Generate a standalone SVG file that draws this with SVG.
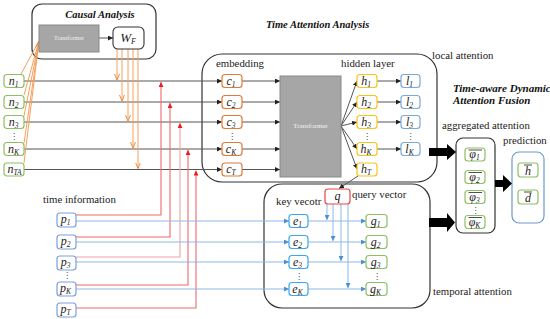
<svg xmlns="http://www.w3.org/2000/svg" width="550" height="319" viewBox="0 0 550 319">
<defs>
<style>
.bg{fill:#fff}
.frame{fill:none;stroke:#333;stroke-width:1.2}
.nb{fill:#fff;stroke:#8cc063;stroke-width:1.2}
.cb{fill:#fff;stroke:#e07b39;stroke-width:1.2}
.hb{fill:#fff;stroke:#f5c518;stroke-width:1.2}
.lb{fill:#fff;stroke:#7aa9dc;stroke-width:1.2}
.eb{fill:#fff;stroke:#3aa8ec;stroke-width:1.2}
.pb{fill:#fff;stroke:#7a9fdf;stroke-width:1.2}
.qb{fill:#fff;stroke:#e84545;stroke-width:1.2}
.tf{fill:#a6a6a6;stroke:#8a8a8a;stroke-width:1}
.m{font-family:"Liberation Serif",serif;font-style:italic;font-size:12px;fill:#222;text-anchor:middle}
.s{font-size:7.5px}
.lbl{font-family:"Liberation Serif",serif;font-size:10.8px;fill:#222}
.ttl{font-family:"Liberation Serif",serif;font-size:10.5px;font-weight:bold;font-style:italic;fill:#111}
.tft{font-family:"Liberation Serif",serif;font-size:6px;fill:#f2f2f2;text-anchor:middle}
.dots{font-family:"DejaVu Sans",sans-serif;font-size:8px;fill:#333;text-anchor:middle}
.gl{fill:none;stroke:#555;stroke-width:1}
.ol{fill:none;stroke:#f5a05a;stroke-width:1}
.rl{fill:none;stroke:#f06a6a;stroke-width:1.1}
.bl{fill:none;stroke:#8fb8e8;stroke-width:1}
.ov{stroke:#222;stroke-width:0.8}
.big{fill:#000}
</style>
<marker id="ak" viewBox="0 0 6 6" refX="6" refY="3" markerWidth="5" markerHeight="5" orient="auto" markerUnits="userSpaceOnUse"><path d="M0,0 L6,3 L0,6 z" fill="#222"/></marker>
<marker id="ao" viewBox="0 0 6 6" refX="6" refY="3" markerWidth="6" markerHeight="6" orient="auto" markerUnits="userSpaceOnUse"><path d="M0,0.5 L6,3 L0,5.5" fill="none" stroke="#f08a3a" stroke-width="1"/></marker>
<marker id="ar" viewBox="0 0 6 6" refX="6" refY="3" markerWidth="5" markerHeight="5" orient="auto" markerUnits="userSpaceOnUse"><path d="M0,0 L6,3 L0,6 z" fill="#e82020"/></marker>
<marker id="ab" viewBox="0 0 6 6" refX="6" refY="3" markerWidth="5" markerHeight="5" orient="auto" markerUnits="userSpaceOnUse"><path d="M0,0 L6,3 L0,6 z" fill="#4a90d9"/></marker>
</defs>
<rect class="bg" x="0" y="0" width="550" height="319"/>

<!-- frames -->
<g id="causal-analysis">
<rect class="frame" x="32" y="4" width="124" height="55" rx="10"/>
<text class="ttl" x="100" y="18" text-anchor="middle">Causal Analysis</text>
</g>
<g id="local-attention-box">
<rect class="frame" x="202" y="54" width="235" height="128" rx="20"/>
<text class="lbl" x="216" y="67">embedding</text>
<text class="lbl" x="341" y="67">hidden layer</text>
</g>
<g id="temporal-attention-box">
<rect class="frame" x="264" y="184" width="166" height="124" rx="18"/>
<text class="lbl" x="276" y="205">key vecotr</text>
<text class="lbl" x="352" y="198">query vector</text>
</g>
<g id="aggregated-box">
<rect class="frame" x="456" y="138" width="39" height="95" rx="7"/>
</g>
<g id="prediction-box">
<rect x="512" y="152" width="32" height="71" rx="7" fill="none" stroke="#6a9bd0" stroke-width="1.2"/>
</g>

<!-- free labels -->
<text class="ttl" x="266" y="28">Time Attention Analysis</text>
<text class="lbl" x="432" y="59">local attention</text>
<text class="ttl" x="453" y="92" style="font-size:11px">Time-aware Dynamic</text>
<text class="ttl" x="453" y="104" style="font-size:11px">Attention Fusion</text>
<text class="lbl" x="442" y="129">aggregated attention</text>
<text class="lbl" x="503" y="144">prediction</text>
<text class="lbl" x="43" y="203">time information</text>
<text class="lbl" x="433" y="295">temporal attention</text>

<!-- connectors -->
<g id="connectors">
<path class="gl" d="M24,81 H222" marker-end="url(#ak)"/>
<path class="gl" d="M24,102 H222" marker-end="url(#ak)"/>
<path class="gl" d="M24,122 H222" marker-end="url(#ak)"/>
<path class="gl" d="M24,149 H222" marker-end="url(#ak)"/>
<path class="gl" d="M24,169.5 H222" marker-end="url(#ak)"/>
<path class="gl" d="M242,81 H280" marker-end="url(#ak)"/>
<path class="gl" d="M242,102 H280" marker-end="url(#ak)"/>
<path class="gl" d="M242,122 H280" marker-end="url(#ak)"/>
<path class="gl" d="M242,149 H280" marker-end="url(#ak)"/>
<path class="gl" d="M242,169.5 H280" marker-end="url(#ak)"/>
<path class="gl" d="M341,126 L357,81" marker-end="url(#ak)"/>
<path class="gl" d="M341,126 L357,102" marker-end="url(#ak)"/>
<path class="gl" d="M341,126 L357,122" marker-end="url(#ak)"/>
<path class="gl" d="M341,126 L357,149" marker-end="url(#ak)"/>
<path class="gl" d="M341,126 L357,169" marker-end="url(#ak)"/>
<path class="gl" d="M377,81 H401" marker-end="url(#ak)"/>
<path class="gl" d="M377,102 H401" marker-end="url(#ak)"/>
<path class="gl" d="M377,122 H401" marker-end="url(#ak)"/>
<path class="gl" d="M377,149 H401" marker-end="url(#ak)"/>
<path class="gl" d="M358,176 L339,188.5" marker-end="url(#ak)"/>
<path class="gl" d="M99,38 H113" marker-end="url(#ak)"/>
<path class="ol" d="M21,74 L39,41"/>
<path class="ol" d="M24,95 L39,41"/>
<path class="ol" d="M24,116 L39,41"/>
<path class="ol" d="M24,143 L39,41"/>
<path class="ol" d="M24,163 L39,41" marker-end="url(#ao)"/>
<path class="ol" d="M117,49 V80" marker-end="url(#ao)"/>
<path class="ol" d="M122,49 V101" marker-end="url(#ao)"/>
<path class="ol" d="M128,49 V121" marker-end="url(#ao)"/>
<path class="ol" d="M133,49 V148" marker-end="url(#ao)"/>
<path class="ol" d="M138,49 V168.5" marker-end="url(#ao)"/>
<path class="rl" d="M76,215 H161 V82" marker-end="url(#ar)"/>
<path class="rl" d="M76,237 H170 V103" marker-end="url(#ar)"/>
<path class="rl" d="M76,257 H180 V123" marker-end="url(#ar)" style="stroke:#f5a0a0"/>
<path class="rl" d="M76,285 H188 V150" marker-end="url(#ar)"/>
<path class="rl" d="M76,308 H196 V170.5" marker-end="url(#ar)"/>
<path class="bl" d="M76,221 H289" marker-end="url(#ab)"/>
<path class="bl" d="M76,242 H289" marker-end="url(#ab)"/>
<path class="bl" d="M76,262 H289" marker-end="url(#ab)"/>
<path class="bl" d="M76,289 H289" marker-end="url(#ab)"/>
<path class="bl" d="M308,221 H366" marker-end="url(#ab)"/>
<path class="bl" d="M308,242 H366" marker-end="url(#ab)"/>
<path class="bl" d="M308,262 H366" marker-end="url(#ab)"/>
<path class="bl" d="M308,289 H366" marker-end="url(#ab)"/>
<path class="bl" d="M327,204 V220" marker-end="url(#ab)"/>
<path class="bl" d="M333,204 V241" marker-end="url(#ab)"/>
<path class="bl" d="M341,204 V261" marker-end="url(#ab)"/>
<path class="bl" d="M348,204 V288" marker-end="url(#ab)"/>
<polygon class="big" points="429,148 447,148 447,144 456,152 447,160 447,156 429,156"/>
<polygon class="big" points="429,218 447,218 447,213 455,222.5 447,232 447,227 429,227"/>
<polygon class="big" points="495,180 503,180 503,175 512,183.5 503,192 503,187 495,187"/>
</g>

<g id="causal-transformer">
<rect class="tf" x="39" y="25" width="60" height="27"/>
<text class="tft" x="69" y="40">Transformer</text>
</g>
<g id="WF">
<rect x="113" y="27" width="31" height="22" rx="5" fill="#fff" stroke="#333" stroke-width="1.1"/>
<text class="m" x="128" y="42" style="font-size:13px">W<tspan class="s" dy="2" style="font-size:8px">F</tspan></text>
</g>

<g id="n1"><rect class="nb" x="4" y="74.5" width="20" height="13" rx="3"/><text class="m" x="13.5" y="84.5">n<tspan class="s" dy="2">1</tspan></text></g>
<g id="n2"><rect class="nb" x="4" y="95.5" width="20" height="13" rx="3"/><text class="m" x="13.5" y="105.5">n<tspan class="s" dy="2">2</tspan></text></g>
<g id="n3"><rect class="nb" x="4" y="115.5" width="20" height="13" rx="3"/><text class="m" x="13.5" y="125.5">n<tspan class="s" dy="2">3</tspan></text></g>
<text class="dots" x="14" y="139">⋮</text>
<g id="nK"><rect class="nb" x="4" y="142.5" width="20" height="13" rx="3"/><text class="m" x="13.5" y="152.5">n<tspan class="s" dy="2">K</tspan></text></g>
<g id="nTA"><rect class="nb" x="4" y="163" width="20" height="13" rx="3"/><text class="m" x="14.5" y="173">n<tspan class="s" dy="2">TA</tspan></text></g>

<g id="c1"><rect class="cb" x="222" y="74.5" width="20" height="13" rx="3"/><text class="m" x="231" y="84.5">c<tspan class="s" dy="2">1</tspan></text></g>
<g id="c2"><rect class="cb" x="222" y="95.5" width="20" height="13" rx="3"/><text class="m" x="231" y="105.5">c<tspan class="s" dy="2">2</tspan></text></g>
<g id="c3"><rect class="cb" x="222" y="115.5" width="20" height="13" rx="3"/><text class="m" x="231" y="125.5">c<tspan class="s" dy="2">3</tspan></text></g>
<text class="dots" x="232" y="139">⋮</text>
<g id="cK"><rect class="cb" x="222" y="142.5" width="20" height="13" rx="3"/><text class="m" x="231" y="152.5">c<tspan class="s" dy="2">K</tspan></text></g>
<g id="cT"><rect class="cb" x="222" y="163" width="20" height="13" rx="3"/><text class="m" x="231" y="173">c<tspan class="s" dy="2">T</tspan></text></g>

<g id="transformer">
<rect class="tf" x="280" y="76" width="61" height="101"/>
<text class="tft" x="310.5" y="128" style="font-size:7px">Transformer</text>
</g>

<g id="h1"><rect class="hb" x="357" y="74.5" width="20" height="13" rx="3"/><text class="m" x="366" y="84.5">h<tspan class="s" dy="2">1</tspan></text></g>
<g id="h2"><rect class="hb" x="357" y="95.5" width="20" height="13" rx="3"/><text class="m" x="366" y="105.5">h<tspan class="s" dy="2">2</tspan></text></g>
<g id="h3"><rect class="hb" x="357" y="115.5" width="20" height="13" rx="3"/><text class="m" x="366" y="125.5">h<tspan class="s" dy="2">3</tspan></text></g>
<text class="dots" x="367" y="139">⋮</text>
<g id="hK"><rect class="hb" x="357" y="142.5" width="20" height="13" rx="3"/><text class="m" x="366" y="152.5">h<tspan class="s" dy="2">K</tspan></text></g>
<g id="hT"><rect class="hb" x="357" y="163" width="20" height="13" rx="3"/><text class="m" x="366" y="173">h<tspan class="s" dy="2">T</tspan></text></g>

<g id="l1"><rect class="lb" x="401" y="74.5" width="19" height="13" rx="3"/><text class="m" x="409.5" y="84.5">l<tspan class="s" dy="2">1</tspan></text></g>
<g id="l2"><rect class="lb" x="401" y="95.5" width="19" height="13" rx="3"/><text class="m" x="409.5" y="105.5">l<tspan class="s" dy="2">2</tspan></text></g>
<g id="l3"><rect class="lb" x="401" y="115.5" width="19" height="13" rx="3"/><text class="m" x="409.5" y="125.5">l<tspan class="s" dy="2">3</tspan></text></g>
<text class="dots" x="410.5" y="139">⋮</text>
<g id="lK"><rect class="lb" x="401" y="142.5" width="19" height="13" rx="3"/><text class="m" x="409.5" y="152.5">l<tspan class="s" dy="2">K</tspan></text></g>

<g id="phi1"><rect class="nb" x="465" y="148" width="20" height="13" rx="3"/><line class="ov" x1="468.5" y1="150" x2="482" y2="150"/><text class="m" x="474.5" y="158">φ<tspan class="s" dy="2">1</tspan></text></g>
<g id="phi2"><rect class="nb" x="465" y="170.5" width="20" height="13" rx="3"/><line class="ov" x1="468.5" y1="172.5" x2="482" y2="172.5"/><text class="m" x="474.5" y="180.5">φ<tspan class="s" dy="2">2</tspan></text></g>
<g id="phi3"><rect class="nb" x="465" y="190.5" width="20" height="13" rx="3"/><line class="ov" x1="468.5" y1="192.5" x2="482" y2="192.5"/><text class="m" x="474.5" y="200.5">φ<tspan class="s" dy="2">3</tspan></text></g>
<text class="dots" x="475.5" y="213">⋮</text>
<g id="phiK"><rect class="nb" x="465" y="215.5" width="20" height="13" rx="3"/><line class="ov" x1="468.5" y1="217.5" x2="482" y2="217.5"/><text class="m" x="474.5" y="225.5">φ<tspan class="s" dy="2">K</tspan></text></g>

<g id="hbar"><rect class="nb" x="518" y="163" width="20" height="14" rx="3"/><line class="ov" x1="524" y1="165" x2="532" y2="165"/><text class="m" x="528" y="175">h</text></g>
<g id="dbar"><rect class="nb" x="518" y="190" width="20" height="14" rx="3"/><line class="ov" x1="524" y1="192" x2="532" y2="192"/><text class="m" x="528" y="202">d</text></g>

<g id="p1"><rect class="pb" x="57" y="213" width="19" height="14" rx="3"/><text class="m" x="65.5" y="222.5">p<tspan class="s" dy="2">1</tspan></text></g>
<g id="p2"><rect class="pb" x="57" y="235" width="19" height="14" rx="3"/><text class="m" x="65.5" y="244.5">p<tspan class="s" dy="2">2</tspan></text></g>
<g id="p3"><rect class="pb" x="57" y="256" width="19" height="14" rx="3"/><text class="m" x="65.5" y="265.5">p<tspan class="s" dy="2">3</tspan></text></g>
<text class="dots" x="67" y="278">⋮</text>
<g id="pK"><rect class="pb" x="57" y="282" width="19" height="14" rx="3"/><text class="m" x="65.5" y="291.5">p<tspan class="s" dy="2">K</tspan></text></g>
<g id="pT"><rect class="pb" x="57" y="303" width="19" height="14" rx="3"/><text class="m" x="65.5" y="312.5">p<tspan class="s" dy="2">T</tspan></text></g>

<g id="q"><rect class="qb" x="325" y="189" width="25" height="15" rx="3"/><text class="m" x="337.5" y="199.5">q</text></g>

<g id="e1"><rect class="eb" x="289" y="214.5" width="19" height="13" rx="3"/><text class="m" x="297.5" y="224.5">e<tspan class="s" dy="2">1</tspan></text></g>
<g id="e2"><rect class="eb" x="289" y="235.5" width="19" height="13" rx="3"/><text class="m" x="297.5" y="245.5">e<tspan class="s" dy="2">2</tspan></text></g>
<g id="e3"><rect class="eb" x="289" y="255.5" width="19" height="13" rx="3"/><text class="m" x="297.5" y="265.5">e<tspan class="s" dy="2">3</tspan></text></g>
<text class="dots" x="299" y="279">⋮</text>
<g id="eK"><rect class="eb" x="289" y="282.5" width="19" height="13" rx="3"/><text class="m" x="297.5" y="292.5">e<tspan class="s" dy="2">K</tspan></text></g>

<g id="g1"><rect class="nb" x="366" y="214.5" width="21" height="13" rx="3"/><text class="m" x="375.5" y="224.5">g<tspan class="s" dy="2">1</tspan></text></g>
<g id="g2"><rect class="nb" x="366" y="235.5" width="21" height="13" rx="3"/><text class="m" x="375.5" y="245.5">g<tspan class="s" dy="2">2</tspan></text></g>
<g id="g3"><rect class="nb" x="366" y="255.5" width="21" height="13" rx="3"/><text class="m" x="375.5" y="265.5">g<tspan class="s" dy="2">3</tspan></text></g>
<text class="dots" x="377" y="279">⋮</text>
<g id="gK"><rect class="nb" x="366" y="282.5" width="21" height="13" rx="3"/><text class="m" x="375.5" y="292.5">g<tspan class="s" dy="2">K</tspan></text></g>
</svg>
